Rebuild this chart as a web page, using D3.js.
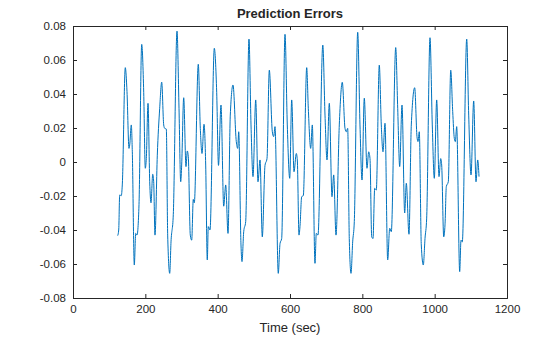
<!DOCTYPE html>
<html>
<head>
<meta charset="utf-8">
<script src="https://cdn.jsdelivr.net/npm/d3@7"></script>
<style>
  body { margin: 0; background: #fff; }
  text { font-family: "Liberation Sans", Arial, sans-serif; fill: #262626; }
</style>
</head>
<body>
<div id="chart"></div>
<script>
// temps (sec) et erreurs de prediction
var times = [123.6, 126.4, 129.1, 133.5, 136.3, 144.6, 149.3, 154.8, 156.8, 161.2, 164.0, 169.5, 173.4, 177.0, 182.5,
  190.0, 195.5, 199.9, 202.7, 207.4, 212.1, 215.7, 220.4, 223.1, 226.7, 233.1, 239.7, 245.3, 250.8, 253.5, 258.0,
  261.8, 267.4, 271.0, 277.3, 287.6, 293.1, 297.8, 300.5, 306.1, 312.4, 316.0, 318.8, 324.3, 328.2, 332.6, 335.4,
  346.4, 352.0, 356.7, 362.2, 366.9, 371.3, 374.1, 378.8, 390.7, 397.3, 402.3, 409.2, 416.7, 422.2, 428.6, 434.9,
  442.4, 451.5, 455.4, 458.2, 464.5, 467.3, 472.0, 477.5, 486.6, 492.2, 497.7, 505.2, 511.5, 517.1, 523.4, 530.9,
  536.4, 542.8, 551.1, 554.9, 558.5, 567.6, 572.4, 577.0, 586.2, 592.5, 599.2, 604.7, 611.1, 617.4, 620.2, 624.9,
  627.6, 632.3, 636.8, 646.2, 650.6, 657.2, 661.7, 669.1, 672.7, 677.4, 690.7, 696.8, 702.3, 708.7, 716.1, 720.8,
  727.2, 736.3, 744.6, 752.1, 755.6, 759.5, 763.9, 768.7, 773.3, 777.8, 787.2, 793.5, 799.1, 805.4, 812.9, 817.6,
  821.2, 825.9, 829.5, 834.2, 838.6, 846.9, 852.4, 857.1, 862.7, 870.1, 875.7, 880.1, 892.3, 897.8, 903.3, 909.7,
  917.1, 921.6, 929.0, 935.4, 944.8, 951.1, 953.9, 957.5, 963.0, 968.6, 973.3, 977.9, 987.1, 993.4, 999.0, 1005.6,
  1012.0, 1016.7, 1019.4, 1025.0, 1028.6, 1032.2, 1037.7, 1044.4, 1049.9, 1054.3, 1057.1, 1060.9, 1069.2, 1072.8,
  1076.4, 1088.6, 1094.1, 1100.5, 1107.9, 1114.3, 1119.0, 1122.6];

var errors = [-0.0433, -0.040, -0.0194, -0.0198, -0.0135, 0.0555, 0.0414, 0.008, 0.010, 0.0218, 0.006, -0.0606, -0.042, -0.043, -0.025,
  0.0692, 0.041, -0.0037, 0.002, 0.0345, -0.0116, -0.024, -0.0072, -0.0116, -0.043, 0.004, 0.0316, 0.047, 0.0218, 0.0198, 0.0194,
  -0.043, -0.0655, -0.047, -0.031, 0.077, 0.0316, -0.0116, -0.0018, 0.0378, -0.0027, 0.0065, 0.0031, -0.043, -0.046, -0.022, -0.024,
  0.0575, 0.0198, 0.005, 0.0222, -0.0018, -0.0576, -0.038, -0.040, 0.0669, 0.041, -0.002, 0.0335, -0.026, -0.0135, -0.042, 0.0276,
  0.0453, 0.012, 0.008, 0.0178, -0.0488, -0.0586, -0.041, -0.035, 0.0723, 0.0218, -0.0086, 0.0365, -0.0116, 0.0012, -0.044, -0.002,
  0.002, 0.054, 0.0178, 0.0149, 0.0208, -0.0655, -0.048, -0.045, 0.0751, 0.0218, -0.0096, 0.0365, -0.0057, 0.005, 0.0012, -0.043,
  -0.038, -0.0204, -0.0198, 0.0555, 0.0316, 0.008, 0.0218, -0.0596, -0.042, -0.043, 0.0688, 0.0276, 0.0012, 0.0345, -0.0204, -0.0076,
  -0.043, 0.0218, 0.0469, 0.0198, 0.0178, 0.0198, -0.045, -0.0655, -0.047, -0.035, 0.0763, 0.0218, -0.0106, 0.0375, -0.0037, 0.006,
  0.002, -0.044, -0.045, -0.0155, -0.0165, 0.057, 0.0218, 0.006, 0.0228, -0.0576, -0.039, -0.041, 0.0673, 0.0316, -0.0027, 0.0335,
  -0.030, -0.0125, -0.0425, 0.0218, 0.0437, 0.0149, 0.012, 0.0178, -0.0488, -0.0606, -0.045, -0.033, 0.0731, 0.0218, -0.0096, 0.0365,
  -0.0086, 0.002, -0.0018, -0.044, -0.037, -0.0145, -0.0116, 0.054, 0.0296, 0.0139, 0.012, 0.0208, -0.0645, -0.046,
  -0.047, 0.0723, 0.0276, -0.0076, 0.0359, -0.0116, 0.0012, -0.0086];

var xTicks = [0, 200, 400, 600, 800, 1000, 1200];
var yTicks = [-0.08, -0.06, -0.04, -0.02, 0, 0.02, 0.04, 0.06, 0.08];
var yLabels = ["-0.08", "-0.06", "-0.04", "-0.02", "0", "0.02", "0.04", "0.06", "0.08"];

var width = 560,
    height = 337;
var margin = {left: 73, right: 53, top: 26, bottom: 39};

var svg = d3.select("#chart")
  .append("svg")
  .attr("width", width)
  .attr("height", height);

var x = d3.scaleLinear()
  .domain([0, 1200])
  .range([margin.left, width - margin.right]);

var y = d3.scaleLinear()
  .domain([-0.08, 0.08])
  .range([height - margin.bottom, margin.top]);

// axes, ticks vers l'interieur comme matlab
var gx = svg.append("g")
  .attr("transform", "translate(0," + (height - margin.bottom) + ")")
  .call(d3.axisBottom(x).tickValues(xTicks).tickSize(-4).tickPadding(7).tickFormat(d3.format("d")));
var gxTop = svg.append("g")
  .attr("transform", "translate(0," + margin.top + ")")
  .call(d3.axisTop(x).tickValues(xTicks).tickSize(-4).tickFormat(""));
var gy = svg.append("g")
  .attr("transform", "translate(" + margin.left + ",0)")
  .call(d3.axisLeft(y).tickValues(yTicks).tickSize(-4).tickPadding(7)
    .tickFormat(function(d, i){ return yLabels[i]; }));
var gyRight = svg.append("g")
  .attr("transform", "translate(" + (width - margin.right) + ",0)")
  .call(d3.axisRight(y).tickValues(yTicks).tickSize(-4).tickFormat(""));

[gx, gxTop, gy, gyRight].forEach(function(g){
  g.selectAll("path.domain").attr("stroke", "#262626").attr("stroke-width", 1);
  g.selectAll("line").attr("stroke", "#262626");
  g.selectAll("text").attr("font-size", 11.5).attr("fill", "#262626")
    .style("font-family", "'Liberation Sans', Arial, sans-serif");
});

// la courbe
var line = d3.line()
  .x(function(d, i){ return x(times[i]); })
  .y(function(d){ return y(d); })
  .curve(d3.curveMonotoneX);

svg.append("path")
  .datum(errors)
  .attr("fill", "none")
  .attr("stroke", "#0072BD")
  .attr("stroke-width", 1)
  .attr("d", line);

svg.append("text")
  .attr("x", (margin.left + width - margin.right) / 2)
  .attr("y", 18)
  .attr("text-anchor", "middle")
  .attr("font-size", 13)
  .attr("font-weight", "bold")
  .text("Prediction Errors");

svg.append("text")
  .attr("x", (margin.left + width - margin.right) / 2)
  .attr("y", 332)
  .attr("text-anchor", "middle")
  .attr("font-size", 13)
  .text("Time (sec)");
</script>
</body>
</html>
